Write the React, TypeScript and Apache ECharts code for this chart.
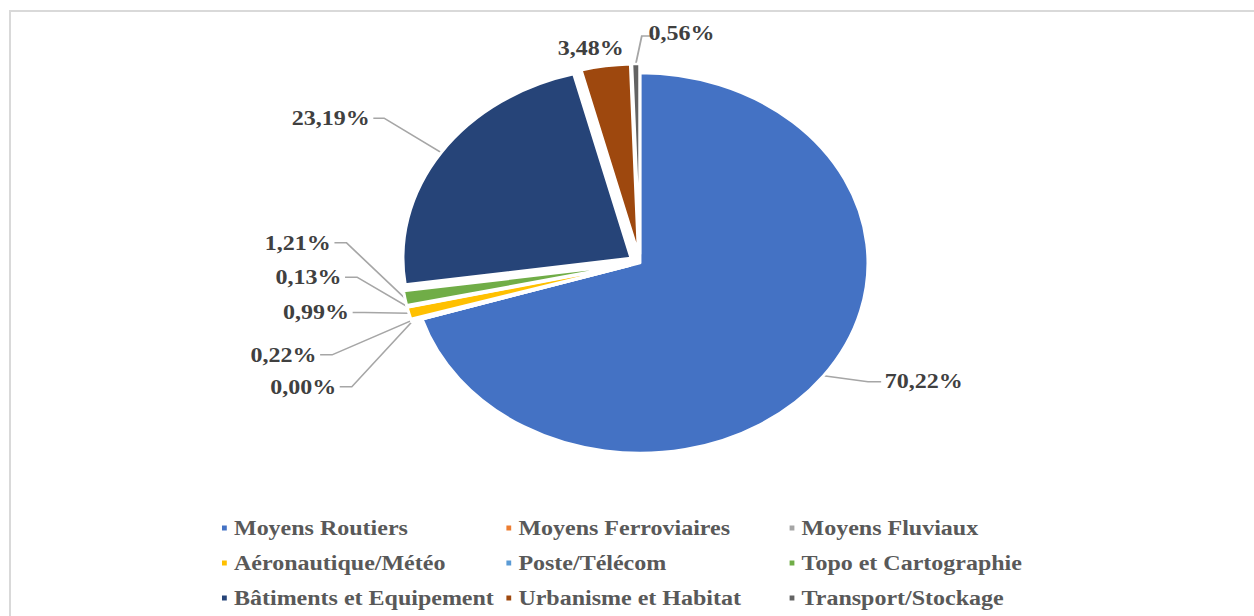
import React, { useEffect, useRef } from "react";
import * as echarts from "echarts";

const categories = [
  "Moyens Routiers",
  "Moyens Ferroviaires",
  "Moyens Fluviaux",
  "Aéronautique/Météo",
  "Poste/Télécom",
  "Topo et Cartographie",
  "Bâtiments et Equipement",
  "Urbanisme et Habitat",
  "Transport/Stockage",
];
const shares = [70.22, 0.0, 0.22, 0.99, 0.13, 1.21, 23.19, 3.48, 0.56];
const colors = [
  "#4472C4",
  "#ED7D31",
  "#A5A5A5",
  "#FFC000",
  "#5B9BD5",
  "#70AD47",
  "#264478",
  "#9E480E",
  "#636363",
];
const legendColumns = [
  ["Moyens Routiers", "Aéronautique/Météo", "Bâtiments et Equipement"],
  ["Moyens Ferroviaires", "Poste/Télécom", "Urbanisme et Habitat"],
  ["Moyens Fluviaux", "Topo et Cartographie", "Transport/Stockage"],
];

const SX = 1.2;
const W = 1254 / SX;
const H = 616;
const FONT = "'Liberation Serif', 'Times New Roman', serif";

export default function App() {
  const ref = useRef<HTMLDivElement>(null);
  useEffect(() => {
    if (!ref.current) return;
    const chart = echarts.init(ref.current, null, { renderer: "svg" });
    // layout config for leader lines (first segment, second segment)
    const leader: number[][] = [
      [10, 40],
      [20, 14],
      [20, 14],
      [20, 14],
      [20, 14],
      [20, 14],
      [62, 3],
      [18, 0],
      [27, 10],
    ];
    // nudges for labels (chart units) and final horizontal leader segment
    const nudge: Record<number, number[]> = {
      1: [-27, -64],
      2: [-41, -59],
      3: [-12, -64],
      4: [-17, -62],
      5: [-25, -59],
      6: [-22, 0],
      7: [104, -26],
      8: [79, -4],
    };
    const hseg: Record<number, number> = { 0: 11, 1: 10, 2: 10, 3: 10, 4: 10, 5: 10, 6: 9 };
    const legendLefts = [183, 420, 656];
    chart.setOption({
      animation: false,
      color: colors,
      legend: legendColumns.map((col, i) => ({
        data: col,
        orient: "vertical",
        left: legendLefts[i],
        top: 517,
        padding: 0,
        itemWidth: 6,
        itemHeight: 7,
        itemGap: 13,
        icon: "rect",
        selectedMode: false,
        textStyle: {
          fontFamily: FONT,
          fontWeight: "bold",
          fontSize: 20,
          color: "#595959",
          lineHeight: 22,
        },
      })),
      series: [
        {
          type: "pie",
          center: [533.3, 263],
          radius: 190,
          startAngle: 90,
          clockwise: true,
          selectedMode: "multiple",
          selectedOffset: 9,
          avoidLabelOverlap: true,
          itemStyle: { borderColor: "#fff", borderWidth: 2.5 },
          emphasis: { disabled: true },
          label: {
            show: true,
            position: "outside",
            fontFamily: FONT,
            fontWeight: "bold",
            fontSize: 20,
            lineHeight: 35,
            distanceToLabelLine: 3,
            color: "#404040",
            formatter: (p: any) => p.value.toFixed(2).replace(".", ",") + "%",
          },
          labelLine: {
            show: true,
            length: 20,
            length2: 14,
            lineStyle: { color: "#A6A6A6", width: 1.5 },
          },
          labelLayout: (params: any) => {
            const i = params.dataIndex;
            const pts = params.labelLinePoints;
            const n = nudge[i] || [0, 0];
            if (i === categories.length - 1 && pts && pts.length === 3) {
              const p0 = pts[0];
              const p1 = [p0[0] + 5, pts[1][1] - 1];
              const p2 = [p1[0] + 10, p1[1]];
              return { dx: n[0], dy: n[1], labelLinePoints: [p0, p1, p2] };
            }
            const h = hseg[i];
            if (pts && pts.length === 3 && h != null) {
              const p2 = [pts[2][0] + n[0], pts[2][1] + n[1]];
              const s = Math.sign(pts[1][0] - pts[2][0]) || 1;
              const p1 = [p2[0] + s * h, p2[1]];
              return { dx: n[0], dy: n[1], labelLinePoints: [pts[0], p1, p2] };
            }
            return { dx: n[0], dy: n[1] };
          },
          data: categories.map((name, i) => ({
            name,
            value: shares[i],
            selected: i !== 0,
            labelLine: {
              show: i !== 7,
              length: leader[i][0],
              length2: leader[i][1],
            },
          })),
        },
      ],
    });
    return () => chart.dispose();
  }, []);
  return (
    <div style={{ position: "fixed", left: 0, top: 0, width: 1254, height: 616, background: "#fff", overflow: "hidden" }}>
      <div
        style={{
          position: "absolute",
          left: 9,
          top: 10,
          width: 1300,
          height: 700,
          borderTop: "2px solid #D9D9D9",
          borderLeft: "2px solid #D9D9D9",
        }}
      />
      <div
        ref={ref}
        style={{
          position: "absolute",
          left: 0,
          top: 0,
          width: W,
          height: H,
          transform: `scaleX(${SX})`,
          transformOrigin: "0 0",
        }}
      />
    </div>
  );
}
